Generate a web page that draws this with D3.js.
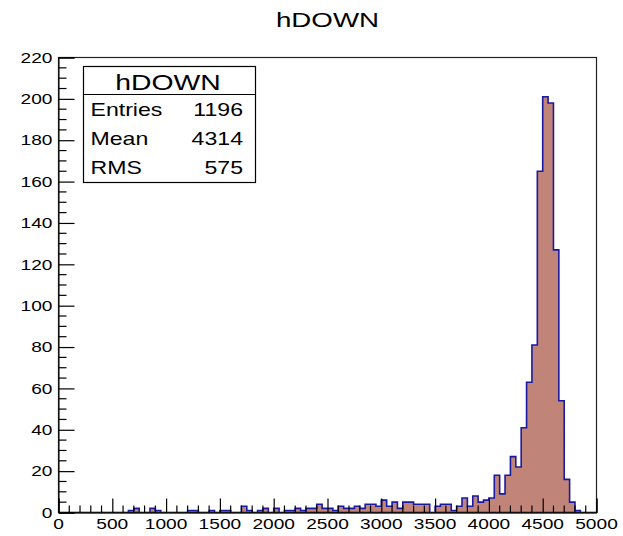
<!DOCTYPE html>
<html>
<head>
<meta charset="utf-8">
<script src="https://cdn.jsdelivr.net/npm/d3@7"></script>
<style>
  html, body { margin: 0; padding: 0; background: #fff; }
  svg { display: block; }
  text { font-family: "Liberation Sans", Arial, Helvetica, sans-serif; fill: #000; }
</style>
</head>
<body>
<svg id="chart" width="623" height="536"></svg>
<script>
// ---- data ----
const histTitle = "hDOWN";
const binLow = 0;
const binHigh = 5000;
const binWidth = 50;
const counts = [
  0,0,0,0,0,0,0,0,0,0,
  0,0,0,1,2,0,0,2,1,0,
  0,0,0,0,1,1,0,0,1,0,
  1,1,0,0,3,1,0,1,2,0,
  2,0,1,1,2,1,2,2,4,2,
  2,1,3,2,2,3,2,4,4,3,
  6,3,5,2,5,5,4,4,4,0,
  3,4,4,1,3,7,3,8,5,6,
  7,18,9,18,27,22,41,63,81,165,
  201,198,127,54,16,5,1,0,0,0
];
const xTickValues = [0,500,1000,1500,2000,2500,3000,3500,4000,4500,5000];
const yTickValues = [0,20,40,60,80,100,120,140,160,180,200,220];
const statLabels = ["Entries", "Mean", "RMS"];
const statValues = ["1196", "4314", "575"];

// ---- layout ----
const svg = d3.select("#chart");
const X0 = 58.5, X1 = 596.5, Y0 = 512.5, Y1 = 57.5;
const x = d3.scaleLinear().domain([binLow, binHigh]).range([X0, X1]);
const y = d3.scaleLinear().domain([0, 220]).range([Y0, Y1]);
const STRETCH = 1.32;

function stretchedText(g, tx, ty, str, size, anchor) {
  const gg = g.append("g").attr("transform", `translate(${tx},${ty}) scale(${STRETCH},1)`);
  gg.append("text").attr("x", 0).attr("y", 0)
    .attr("font-size", size).attr("text-anchor", anchor).text(str);
  return gg;
}

// histogram outline + fill
const bins = counts.map((c, i) => ({ lo: binLow + i * binWidth, hi: binLow + (i + 1) * binWidth, c }));
let d = `M${x(binLow)},${y(0)}`;
bins.forEach(b => { d += `L${x(b.lo)},${y(b.c)}L${x(b.hi)},${y(b.c)}`; });
d += `L${x(binHigh)},${y(0)}Z`;
svg.append("path").attr("d", d)
  .attr("fill", "#c08478")
  .attr("stroke", "#1a1aa0")
  .attr("stroke-width", 1.6)
  .attr("stroke-linejoin", "miter");

// frame
svg.append("rect").attr("x", X0).attr("y", Y1).attr("width", X1 - X0).attr("height", Y0 - Y1)
  .attr("fill", "none").attr("stroke", "#222").attr("stroke-width", 1.2);

// x axis ticks (pointing up into plot)
const xAxis = d3.axisTop(x).tickValues(xTickValues).tickSize(14).tickFormat("");
const gx = svg.append("g").attr("transform", `translate(0,${Y0})`).call(xAxis);
gx.select(".domain").attr("stroke", "#000");
gx.selectAll(".tick line").attr("stroke", "#000").attr("stroke-width", 1.2);
const xMinor = d3.range(binLow, binHigh + 1, 100).filter(v => v % 500 !== 0);
svg.append("g").selectAll("line").data(xMinor).join("line")
  .attr("x1", v => x(v)).attr("x2", v => x(v))
  .attr("y1", Y0).attr("y2", Y0 - 7)
  .attr("stroke", "#000").attr("stroke-width", 1.2);
// x labels
const gxl = svg.append("g");
xTickValues.forEach(v => stretchedText(gxl, x(v), 528.5, String(v), 14.5, "middle"));

// y axis ticks (pointing right into plot)
const yAxis = d3.axisRight(y).tickValues(yTickValues).tickSize(16).tickFormat("");
const gy = svg.append("g").attr("transform", `translate(${X0},0)`).call(yAxis);
gy.select(".domain").attr("stroke", "#000");
gy.selectAll(".tick line").attr("stroke", "#000").attr("stroke-width", 1.2);
const yMinor = d3.range(0, 221, 5).filter(v => v % 20 !== 0);
svg.append("g").selectAll("line").data(yMinor).join("line")
  .attr("x1", X0).attr("x2", X0 + 8)
  .attr("y1", v => y(v)).attr("y2", v => y(v))
  .attr("stroke", "#000").attr("stroke-width", 1.2);
// y labels
const gyl = svg.append("g");
yTickValues.forEach(v => stretchedText(gyl, 52.5, y(v) + 5.2, String(v), 14.5, "end"));

// title
stretchedText(svg, (X0 + X1) / 2, 27, histTitle, 21, "middle");

// stats box
const BX = 83, BY = 66, BW = 172, BH = 116, SEP = 94;
svg.append("rect").attr("x", BX + 0.5).attr("y", BY + 0.5).attr("width", BW).attr("height", BH)
  .attr("fill", "#fff").attr("stroke", "#000").attr("stroke-width", 1.2);
svg.append("line").attr("x1", BX + 0.5).attr("x2", BX + BW + 0.5).attr("y1", SEP + 0.5).attr("y2", SEP + 0.5)
  .attr("stroke", "#000").attr("stroke-width", 1.2);
stretchedText(svg, BX + BW / 2 - 1, 90, histTitle, 21.5, "middle");
const rowBase = [116, 145, 174];
statLabels.forEach((lab, i) => {
  stretchedText(svg, 90.5, rowBase[i], lab, 17.5, "start");
  stretchedText(svg, 243, rowBase[i], statValues[i], 17.5, "end");
});
</script>
</body>
</html>
